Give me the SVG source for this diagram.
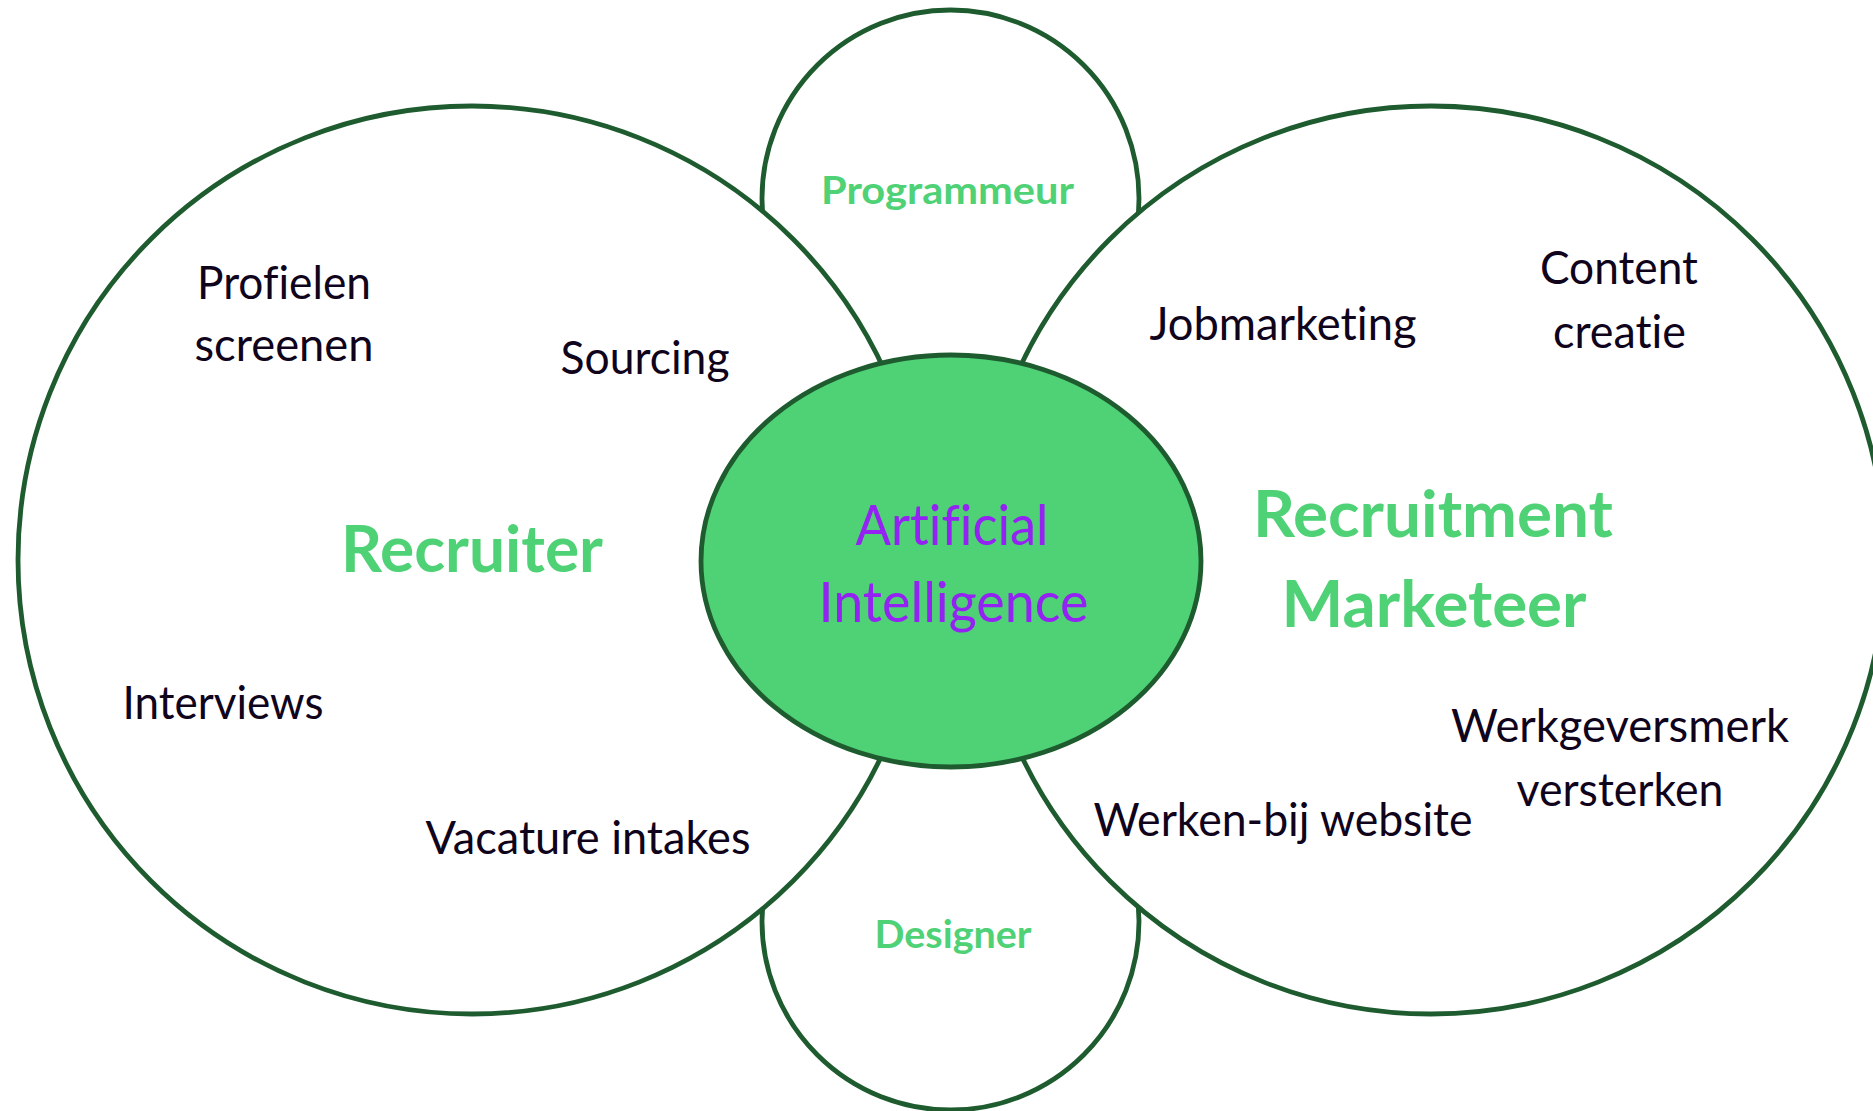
<svg xmlns="http://www.w3.org/2000/svg" width="1873" height="1111" viewBox="0 0 1873 1111">
<style>
.ring{fill:#ffffff;stroke:#1e5c2f;stroke-width:4.8}
.core{fill:#4fd176;stroke:#1e5c2f;stroke-width:4.8}
.t{font-family:Lato,"Open Sans","Liberation Sans",sans-serif;text-anchor:middle;font-variant-ligatures:none}
.item{fill:#0f041b;font-size:47px}
.role{fill:#4fd176;font-weight:bold;font-size:65px}
.small{fill:#4fd176;font-weight:bold;font-size:39px}
.ai{fill:#9422f2;font-size:57px}
</style>
<rect width="1873" height="1111" fill="#ffffff"/>
<g id="connectors"></g>
<g id="programmeur">
<circle class="ring" cx="950.5" cy="198.5" r="188.5"/>
</g>
<g id="designer">
<circle class="ring" cx="950.5" cy="921.5" r="188.5"/>
</g>
<g id="recruiter">
<circle class="ring" cx="472" cy="560" r="454"/>
</g>
<g id="marketeer">
<circle class="ring" cx="1431" cy="560" r="454"/>
</g>
<g id="ai">
<ellipse class="core" cx="951" cy="561" rx="250" ry="206"/>
</g>
<g id="labels">
<text class="t small" x="947.5" y="204" textLength="253" lengthAdjust="spacingAndGlyphs">Programmeur</text>
<text class="t small" x="953" y="948" textLength="157" lengthAdjust="spacingAndGlyphs">Designer</text>
<text class="t role" x="472" y="571.5" textLength="262" lengthAdjust="spacingAndGlyphs">Recruiter</text>
<text class="t role" x="1433" y="536.5" textLength="360" lengthAdjust="spacingAndGlyphs">Recruitment</text>
<text class="t role" x="1434" y="626.5" textLength="305" lengthAdjust="spacingAndGlyphs">Marketeer</text>
<text class="t ai" x="952" y="545" textLength="193" lengthAdjust="spacingAndGlyphs">Artificial</text>
<text class="t ai" x="953.5" y="621.5" textLength="270" lengthAdjust="spacingAndGlyphs">Intelligence</text>
<text class="t item" x="284" y="299" textLength="174" lengthAdjust="spacingAndGlyphs">Profielen</text>
<text class="t item" x="284" y="361" textLength="179" lengthAdjust="spacingAndGlyphs">screenen</text>
<text class="t item" x="645" y="374" textLength="169" lengthAdjust="spacingAndGlyphs">Sourcing</text>
<text class="t item" x="223" y="719" textLength="201" lengthAdjust="spacingAndGlyphs">Interviews</text>
<text class="t item" x="588" y="854" textLength="325" lengthAdjust="spacingAndGlyphs">Vacature intakes</text>
<text class="t item" x="1283" y="340" textLength="267" lengthAdjust="spacingAndGlyphs">Jobmarketing</text>
<text class="t item" x="1619" y="284" textLength="158" lengthAdjust="spacingAndGlyphs">Content</text>
<text class="t item" x="1619.5" y="348" textLength="133" lengthAdjust="spacingAndGlyphs">creatie</text>
<text class="t item" x="1620" y="742" textLength="338" lengthAdjust="spacingAndGlyphs">Werkgeversmerk</text>
<text class="t item" x="1620" y="806" textLength="207" lengthAdjust="spacingAndGlyphs">versterken</text>
<text class="t item" x="1283" y="836" textLength="379" lengthAdjust="spacingAndGlyphs">Werken-bij website</text>
</g>
</svg>
